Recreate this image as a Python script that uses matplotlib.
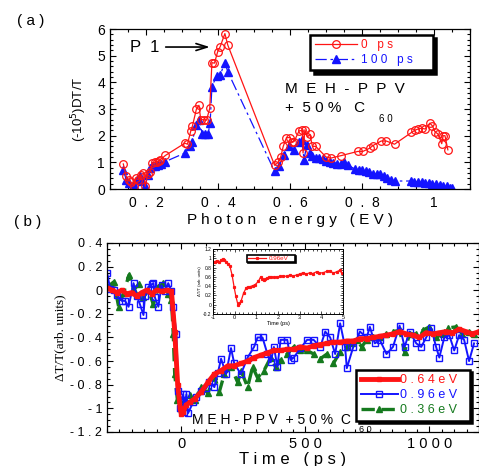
import numpy as np
import matplotlib
matplotlib.use('Agg')
import matplotlib.pyplot as plt
from matplotlib.ticker import MultipleLocator

plt.rcParams['font.family'] = ['Liberation Sans', 'DejaVu Sans']

# ---------------- panel (a) data ----------------
e_0ps = [0.137,0.145,0.152,0.158,0.166,0.172,0.178,0.187,0.193,0.198,0.205,0.212,0.218,0.224,0.230,0.236,0.240,0.254,
         0.308,0.315,0.324,0.329,0.340,0.347,0.352,0.360,0.368,0.377,0.383,0.390,0.399,0.406,0.419,0.427,
         0.557,0.567,0.574,0.581,0.590,0.600,0.606,0.611,0.625,0.634,0.636,0.641,0.648,0.655,0.662,0.671,
         0.700,0.713,0.741,0.788,0.802,0.821,0.830,0.853,0.867,0.890,0.937,0.946,0.955,0.965,0.975,0.988,
         0.995,1.002,1.010,1.021,1.025,1.030,1.038]
dt_0ps = [0.94,0.47,0.35,0.25,0.12,0.40,0.35,0.53,0.60,0.10,0.58,0.65,0.98,1.00,1.03,1.05,1.10,1.26,
          1.72,1.68,2.16,2.37,3.00,3.14,2.60,2.60,2.58,3.03,4.74,4.72,5.15,5.34,5.83,5.40,
          0.89,1.00,1.20,1.60,1.93,1.93,1.75,1.78,2.18,2.20,1.35,2.22,1.95,2.05,1.60,1.60,
          1.20,1.16,1.25,1.41,1.41,1.53,1.63,1.80,1.80,1.68,2.12,2.20,2.25,2.28,2.25,2.47,
          2.37,2.15,2.07,1.70,2.00,2.00,1.47]

e_100ps = [0.137,0.145,0.152,0.160,0.168,0.176,0.183,0.190,0.198,0.205,0.212,0.218,0.226,0.234,0.242,0.254,
           0.308,0.322,0.328,0.340,0.348,0.356,0.364,0.372,0.378,0.383,0.396,0.406,0.419,0.427,
           0.557,0.569,0.583,0.597,0.611,0.625,0.632,0.639,0.646,0.655,0.662,0.671,0.680,0.690,0.700,
           0.710,0.720,0.730,0.740,0.750,0.760,0.780,0.790,0.800,0.810,0.820,0.830,0.840,0.850,0.860,
           0.870,0.880,0.890,0.935,0.945,0.955,0.965,0.975,0.985,0.995,1.005,1.015,1.025,1.035,1.045,1.050]
dt_100ps = [0.72,0.35,0.22,0.04,0.16,0.35,0.47,0.29,0.10,0.54,0.79,0.85,0.88,0.91,0.95,1.03,
            1.35,1.60,1.78,2.40,2.60,2.05,2.05,2.05,2.47,3.84,4.24,4.28,4.74,4.40,
            0.66,0.85,1.28,1.60,1.47,1.78,1.85,1.10,1.66,1.35,1.22,1.16,1.15,1.12,1.05,
            1.00,0.98,0.95,0.93,1.00,0.90,0.75,0.72,0.70,0.68,0.62,0.58,0.55,0.56,0.48,
            0.40,0.35,0.30,0.30,0.28,0.27,0.25,0.22,0.21,0.19,0.17,0.15,0.12,0.10,0.05,0.02]

a_xticks = [0.2, 0.4, 0.6, 0.8, 1.0]
a_xticklabels = ["0  .  2", "0  .  4", "0  .  6", "0  .  8", "1"]
a_yticks = [0, 1, 2, 3, 4, 5, 6]
a_legend = ["0   p s", "1 0 0   p s"]

# ---------------- panel (b) data ----------------
t_064 = [-300,-280,-260,-240,-220,-200,-180,-160,-140,-120,-100,-80,-60,-40,-27,-15,-5,0,7,20,33,53,80,107,133,
         160,187,213,240,267,293,320,347,373,400,427,453,480,507,533,560,587,613,640,667,693,720,747,773,800,
         827,853,880,907,933,960,987,1013,1040,1067,1093,1120,1147,1173,1200]
s_064 = [0.02,0.0,-0.02,0.0,-0.03,-0.02,-0.05,-0.02,0.0,-0.03,0.0,-0.01,0.0,-0.01,-0.35,-0.80,-1.0,-1.05,-1.03,-0.97,
         -0.95,-0.92,-0.86,-0.78,-0.71,-0.68,-0.64,-0.64,-0.62,-0.60,-0.57,-0.55,-0.53,-0.51,-0.51,-0.50,-0.50,-0.48,
         -0.49,-0.47,-0.46,-0.45,-0.44,-0.44,-0.43,-0.43,-0.41,-0.41,-0.40,-0.39,-0.38,-0.37,-0.35,-0.37,-0.38,-0.40,
         -0.36,-0.37,-0.36,-0.35,-0.36,-0.33,-0.35,-0.37,-0.35]

t_096 = [-300,-287,-273,-260,-240,-227,-213,-193,-180,-167,-153,-147,-133,-120,-113,-107,-93,-80,-67,-53,-40,-33,
         -20,-13,-7,0,7,11,20,27,47,60,80,100,113,133,147,160,180,200,213,240,267,293,307,327,347,360,373,387,
         400,427,440,453,480,507,533,560,580,600,620,640,660,667,693,720,747,760,780,800,827,853,880,900,920,
         947,967,987,1007,1027,1040,1060,1080,1100,1120,1140,1160,1180]
s_096 = [0.15,0.01,0.0,-0.04,-0.09,-0.09,-0.14,0.06,-0.05,-0.12,-0.21,-0.05,0.03,0.05,0.06,-0.06,-0.14,0.04,-0.01,
         0.06,-0.01,-0.14,-0.37,-0.85,-1.0,-0.93,-0.88,-1.03,-0.88,-1.04,-0.95,-0.90,-0.85,-0.83,-0.78,-0.82,-0.70,
         -0.58,-0.71,-0.49,-0.62,-0.71,-0.57,-0.48,-0.40,-0.40,-0.54,-0.61,-0.48,-0.65,-0.42,-0.42,-0.59,-0.57,-0.49,
         -0.42,-0.42,-0.48,-0.35,-0.40,-0.54,-0.28,-0.48,-0.66,-0.48,-0.35,-0.40,-0.31,-0.45,-0.42,-0.54,-0.48,-0.30,
         -0.48,-0.35,-0.45,-0.48,-0.40,-0.32,-0.48,-0.57,-0.40,-0.38,-0.51,-0.38,-0.42,-0.60,-0.45]

t_036 = [-300,-273,-253,-233,-211,-193,-173,-153,-133,-113,-93,-73,-53,-40,-33,-27,-16,-7,13,33,53,80,107,133,153,
         173,200,227,240,267,287,307,333,360,380,400,427,453,480,507,533,560,587,613,640,667,687,707,727,747,773,
         800,827,853,880,900,920,947,973,1000,1027,1053,1073,1107,1133,1160,1180]
s_036 = [0.025,0.07,-0.14,-0.02,0.13,0.0,0.05,-0.06,0.0,-0.12,0.03,0.06,-0.03,-0.08,-0.37,-0.71,-0.93,-1.0,-0.93,
         -0.89,-0.93,-0.82,-0.87,-0.73,-0.86,-0.71,-0.65,-0.78,-0.68,-0.82,-0.65,-0.74,-0.68,-0.57,-0.65,-0.59,-0.54,
         -0.48,-0.51,-0.51,-0.54,-0.58,-0.54,-0.62,-0.52,-0.48,-0.45,-0.42,-0.48,-0.42,-0.40,-0.40,-0.37,-0.35,-0.34,
         -0.52,-0.37,-0.37,-0.34,-0.31,-0.40,-0.37,-0.32,-0.31,-0.37,-0.35,-0.37]

b_xticks = [0, 500, 1000]
b_xticklabels = ["0", "5 0 0", "1 0 0 0"]
b_yticks = [-1.2, -1.0, -0.8, -0.6, -0.4, -0.2, 0.0, 0.2, 0.4]
b_yticklabels = ["- 1 . 2", "- 1", "- 0 . 8", "- 0 . 6", "- 0 . 4", "- 0 . 2", "0", "0 . 2", "0 . 4"]
b_legend = ["0 . 6 4 e V", "0 . 9 6 e V", "0 . 3 6 e V"]

# ---------------- inset data ----------------
t_in = [-1.0,-0.9,-0.83,-0.71,-0.62,-0.56,-0.47,-0.38,-0.3,-0.22,-0.12,-0.03,0.05,0.15,0.22,0.29,0.41,0.54,0.63,
        0.72,0.83,0.94,1.09,1.2,1.27,1.35,1.42,1.5,1.58,1.66,1.8,1.94,2.1,2.25,2.4,2.55,2.7,2.86,3.0,3.17,3.3,
        3.48,3.6,3.78,3.9,4.09,4.25,4.4,4.55,4.71,4.85,4.94]
s_in = [0.91,0.93,0.95,0.91,0.97,0.98,0.96,0.93,0.88,0.83,0.64,0.39,0.19,0.0,0.03,0.07,0.25,0.37,0.38,0.39,0.41,
        0.43,0.50,0.60,0.56,0.53,0.55,0.57,0.59,0.60,0.59,0.60,0.61,0.62,0.61,0.64,0.62,0.64,0.66,0.69,0.66,0.69,
        0.67,0.71,0.68,0.69,0.72,0.73,0.68,0.71,0.74,0.68]
in_xticks = [-1, 0, 1, 2, 3, 4, 5]
in_yticks = [-0.2, 0, 0.2, 0.4, 0.6, 0.8, 1.0, 1.2]
in_yticklabels = ["-0.2", "0", "0.2", "0.4", "0.6", "0.8", "1", "1.2"]
in_legend = "0.96eV"

RED = '#ff1414'
BLUE = '#1414ff'
GREEN = '#157a1e'

fig = plt.figure(figsize=(4.79, 4.66), dpi=100)

def style_ticks(ax, size_major=4, size_minor=2):
    ax.tick_params(which='both', direction='in', top=True, right=True, width=0.8)
    ax.tick_params(which='major', length=size_major)
    ax.tick_params(which='minor', length=size_minor)
    for s in ax.spines.values():
        s.set_linewidth(0.9)

# ---------- panel (a) ----------
ax1 = fig.add_axes([0.2296, 0.5944, 0.752, 0.3433])
ax1.plot(e_100ps, dt_100ps, color=BLUE, lw=0.9, ls=(0, (9, 3, 2, 3)), marker='^', ms=5.5,
         mfc=BLUE, mec=BLUE, label=a_legend[1])
ax1.plot(e_0ps, dt_0ps, color=RED, lw=0.9, marker='o', ms=5.5, mfc='none', mec=RED, mew=0.9,
         label=a_legend[0])
ax1.set_xlim(0.1, 1.1)
ax1.set_ylim(0, 6)
ax1.set_xticks(a_xticks, a_xticklabels, fontsize=10)
ax1.set_yticks(a_yticks, [str(v) for v in a_yticks], fontsize=10)
ax1.xaxis.set_minor_locator(MultipleLocator(0.05))
ax1.yaxis.set_minor_locator(MultipleLocator(0.2))
style_ticks(ax1)
ax1.tick_params(axis='x', pad=5)
ax1.set_xlabel("P h o t o n   e n e r g y   ( E V )", fontsize=11, labelpad=2)
ax1.set_ylabel("(-10$^{5}$)DT/T", fontsize=9.5, labelpad=6)

h = ax1.get_legend_handles_labels()
leg1 = ax1.legend([h[0][1], h[0][0]], [h[1][1], h[1][0]], loc='upper left',
                  bbox_to_anchor=(0.556, 0.965, 0.34, 0.0), mode='expand', fontsize=8.5,
                  frameon=True, fancybox=False, edgecolor='black', handlelength=3.6,
                  labelspacing=0.2, borderpad=0.4, handletextpad=0.3, framealpha=1,
                  borderaxespad=0,
                  shadow={'color': 'black', 'alpha': 1.0, 'ox': 2.5, 'oy': -2.5})
leg1.get_frame().set_linewidth(1.8)
for txt, c in zip(leg1.get_texts(), [RED, BLUE]):
    txt.set_color(c)

ax1.text(0.486, 0.625, "M  E  H  -  P  P  V", transform=ax1.transAxes, fontsize=11, va='center', ha='left')
ax1.text(0.486, 0.506, "+  5 0 %   C", transform=ax1.transAxes, fontsize=11, va='center', ha='left')
ax1.text(0.748, 0.44, "6 0", transform=ax1.transAxes, fontsize=7, va='center', ha='left')
ax1.text(0.056, 0.8875, "P  1", transform=ax1.transAxes, fontsize=12, va='center', ha='left')
ax1.annotate("", xy=(0.285, 0.8875), xytext=(0.147, 0.8875), xycoords='axes fraction',
             textcoords='axes fraction',
             arrowprops=dict(arrowstyle='->,head_length=0.8,head_width=0.25', color='black', lw=1.2))

# ---------- panel (b) ----------
ax2 = fig.add_axes([0.2234, 0.073, 0.7766, 0.4056])
l36, = ax2.plot(t_036, s_036, color=GREEN, lw=2.4, ls=(0, (4, 2)), marker='^', ms=4.5,
                mfc=GREEN, mec=GREEN)
l96, = ax2.plot(t_096, s_096, color=BLUE, lw=1.4, marker='s', ms=4.5, mfc='none', mec=BLUE, mew=1.0)
l64, = ax2.plot(t_064, s_064, color=RED, lw=3.5, marker='s', ms=2.5, mfc=RED, mec=RED)
ax2.set_xlim(-300, 1200)
ax2.set_ylim(-1.2, 0.4)
ax2.set_xticks(b_xticks, b_xticklabels, fontsize=10.5)
ax2.set_yticks(b_yticks, b_yticklabels, fontsize=9)
ax2.xaxis.set_minor_locator(MultipleLocator(50))
ax2.yaxis.set_minor_locator(MultipleLocator(0.05))
style_ticks(ax2)
ax2.set_xlabel("T i m e   ( p s )", fontsize=12, labelpad=1)
ax2.set_ylabel("ΔT/T(arb. units)", fontsize=9.5, family=['Liberation Serif', 'DejaVu Serif'], labelpad=3)

leg2 = ax2.legend([l64, l96, l36], b_legend, loc='lower left',
                  bbox_to_anchor=(0.67, 0.06, 0.305, 0.0), mode='expand', fontsize=9,
                  frameon=True, fancybox=False, edgecolor='black', handlelength=3.0,
                  labelspacing=0.25, borderpad=0.35, handletextpad=0.15, framealpha=1,
                  borderaxespad=0,
                  shadow={'color': 'black', 'alpha': 1.0, 'ox': 2, 'oy': -2})
leg2.get_frame().set_linewidth(1.8)
for txt, c in zip(leg2.get_texts(), [RED, BLUE, GREEN]):
    txt.set_color(c)

ax2.text(0.228, 0.063, "M E H - P P V  + 5 0 %  C", transform=ax2.transAxes, fontsize=10,
         va='center', ha='left')
ax2.text(0.677, 0.012, "6 0", transform=ax2.transAxes, fontsize=6.5, va='center', ha='left')

# ---------- inset ----------
ax3 = fig.add_axes([0.4447, 0.3262, 0.2714, 0.1395])
ax3.plot(t_in, s_in, color=RED, lw=0.9, marker='s', ms=1.3, mfc=RED, mec=RED, label=in_legend)
ax3.set_xlim(-1, 5)
ax3.set_ylim(-0.2, 1.2)
ax3.set_xticks(in_xticks, [str(v) for v in in_xticks], fontsize=4)
ax3.set_yticks(in_yticks, in_yticklabels, fontsize=3.5)
ax3.xaxis.set_minor_locator(MultipleLocator(0.2))
ax3.yaxis.set_minor_locator(MultipleLocator(0.05))
ax3.tick_params(which='both', direction='in', top=True, right=True, width=0.5, pad=1)
ax3.tick_params(which='major', length=2.5)
ax3.tick_params(which='minor', length=1.2)
for s in ax3.spines.values():
    s.set_linewidth(0.7)
ax3.set_xlabel("Time (ps)", fontsize=4, labelpad=0.5)
ax3.set_ylabel("ΔT/T (arb. units)", fontsize=3, labelpad=1)
leg3 = ax3.legend(loc='upper left', bbox_to_anchor=(0.26, 0.91, 0.37, 0.0), mode='expand',
                  fontsize=4.5, frameon=True, fancybox=False, edgecolor='black', handlelength=3,
                  borderpad=0.15, handletextpad=0.3, framealpha=1, borderaxespad=0,
                  shadow={'color': 'black', 'alpha': 1.0, 'ox': 1, 'oy': -1})
leg3.get_frame().set_linewidth(1.2)
leg3.get_texts()[0].set_color(RED)

fig.text(0.035, 0.955, "( a )", fontsize=11, ha='left', va='center')
fig.text(0.029, 0.524, "( b )", fontsize=11, ha='left', va='center')

fig.savefig("out.png", dpi=100)
